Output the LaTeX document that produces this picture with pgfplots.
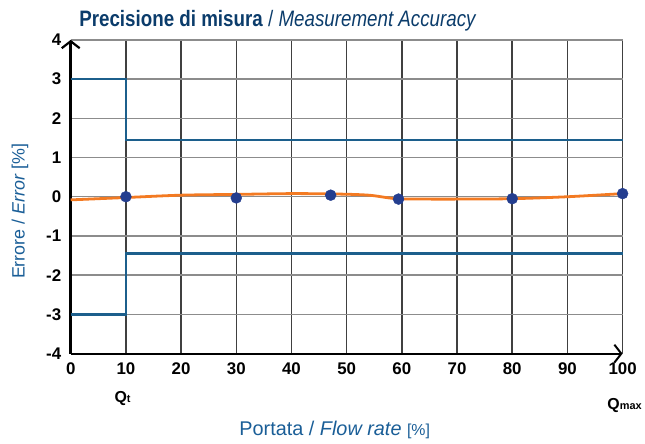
\documentclass[border=0pt]{standalone}
\usepackage{graphicx}
\usepackage{pgfplots}
\pgfplotsset{compat=1.18}
\usepackage{fontspec}
\setmainfont{Liberation Sans}
\usetikzlibrary{arrows.meta}
\definecolor{titleblue}{HTML}{0B3C6B}
\definecolor{labelblue}{HTML}{1A5E97}
\definecolor{limblue}{HTML}{1C5F8C}
\definecolor{curveorange}{HTML}{F37A22}
\definecolor{dotblue}{HTML}{243E8F}
\begin{document}
\begin{tikzpicture}
\begin{axis}[
  scale only axis, width=554bp, height=315bp,
  xmin=0, xmax=100, ymin=-4, ymax=4,
  xtick={0,10,...,100}, ytick={-4,-3,...,4},
  axis lines=left,
  x axis line style={line width=2bp, -{Straight Barb[length=7bp,width=18bp,line width=2bp]}},
  y axis line style={line width=3.5bp, -{Straight Barb[length=7bp,width=18bp,line width=2.2bp]}},
  major tick length=0pt,
  grid=major,
  x grid style={black!75, line width=1.5bp},
  y grid style={black!45, line width=1.5bp},
  /pgf/number format/assume math mode=true,
  tick label style={font=\bfseries\fontsize{17}{17}\selectfont, black},
  xticklabel style={yshift=-6bp},
  yticklabel style={xshift=-6bp},
  clip=false,
]
\addplot[limblue, line width=2.3bp] coordinates {(0,3) (10,3) (10,1.45) (100,1.45)};
\addplot[limblue, line width=2.3bp] coordinates {(0,-3) (10,-3) (10,-1.45) (100,-1.45)};
\addplot[curveorange, line width=2.8bp, smooth, tension=0.5] coordinates {
  (0,-0.08) (10,-0.02) (20,0.04) (30,0.06) (40,0.08) (48,0.07) (54,0.04) (59,-0.05)
  (65,-0.06) (70,-0.06) (80,-0.05) (90,0.0) (100,0.08)};
\addplot[only marks, mark=*, mark size=5.5bp, dotblue] coordinates {
  (10,0.0) (30,-0.03) (47.1,0.04) (59.4,-0.06) (80,-0.05) (100,0.08)};
\end{axis}
\node[titleblue, font=\fontsize{22.5}{26}\selectfont] at (208bp,334bp)
  {\scalebox{0.84}[1]{\textbf{Precisione di misura} / \textit{Measurement Accuracy}}};
\node[labelblue, rotate=90, font=\fontsize{18}{20}\selectfont] at (-51bp,143bp)
  {Errore / \textit{Error} [\%]};
\node[labelblue, font=\fontsize{20}{24}\selectfont] at (265bp,-77bp)
  {Portata / \textit{Flow rate} {\fontsize{16}{18}\selectfont[\%]}};
\node[font=\bfseries\fontsize{16}{18}\selectfont] at (52bp,-45bp)
  {Q{\fontsize{11}{12}\selectfont t}};
\node[font=\bfseries\fontsize{16}{18}\selectfont] at (556bp,-52bp)
  {Q{\fontsize{11}{12}\selectfont max}};
\path[use as bounding box] (-71bp,-90bp) rectangle (574bp,355bp);
\end{tikzpicture}
\end{document}
